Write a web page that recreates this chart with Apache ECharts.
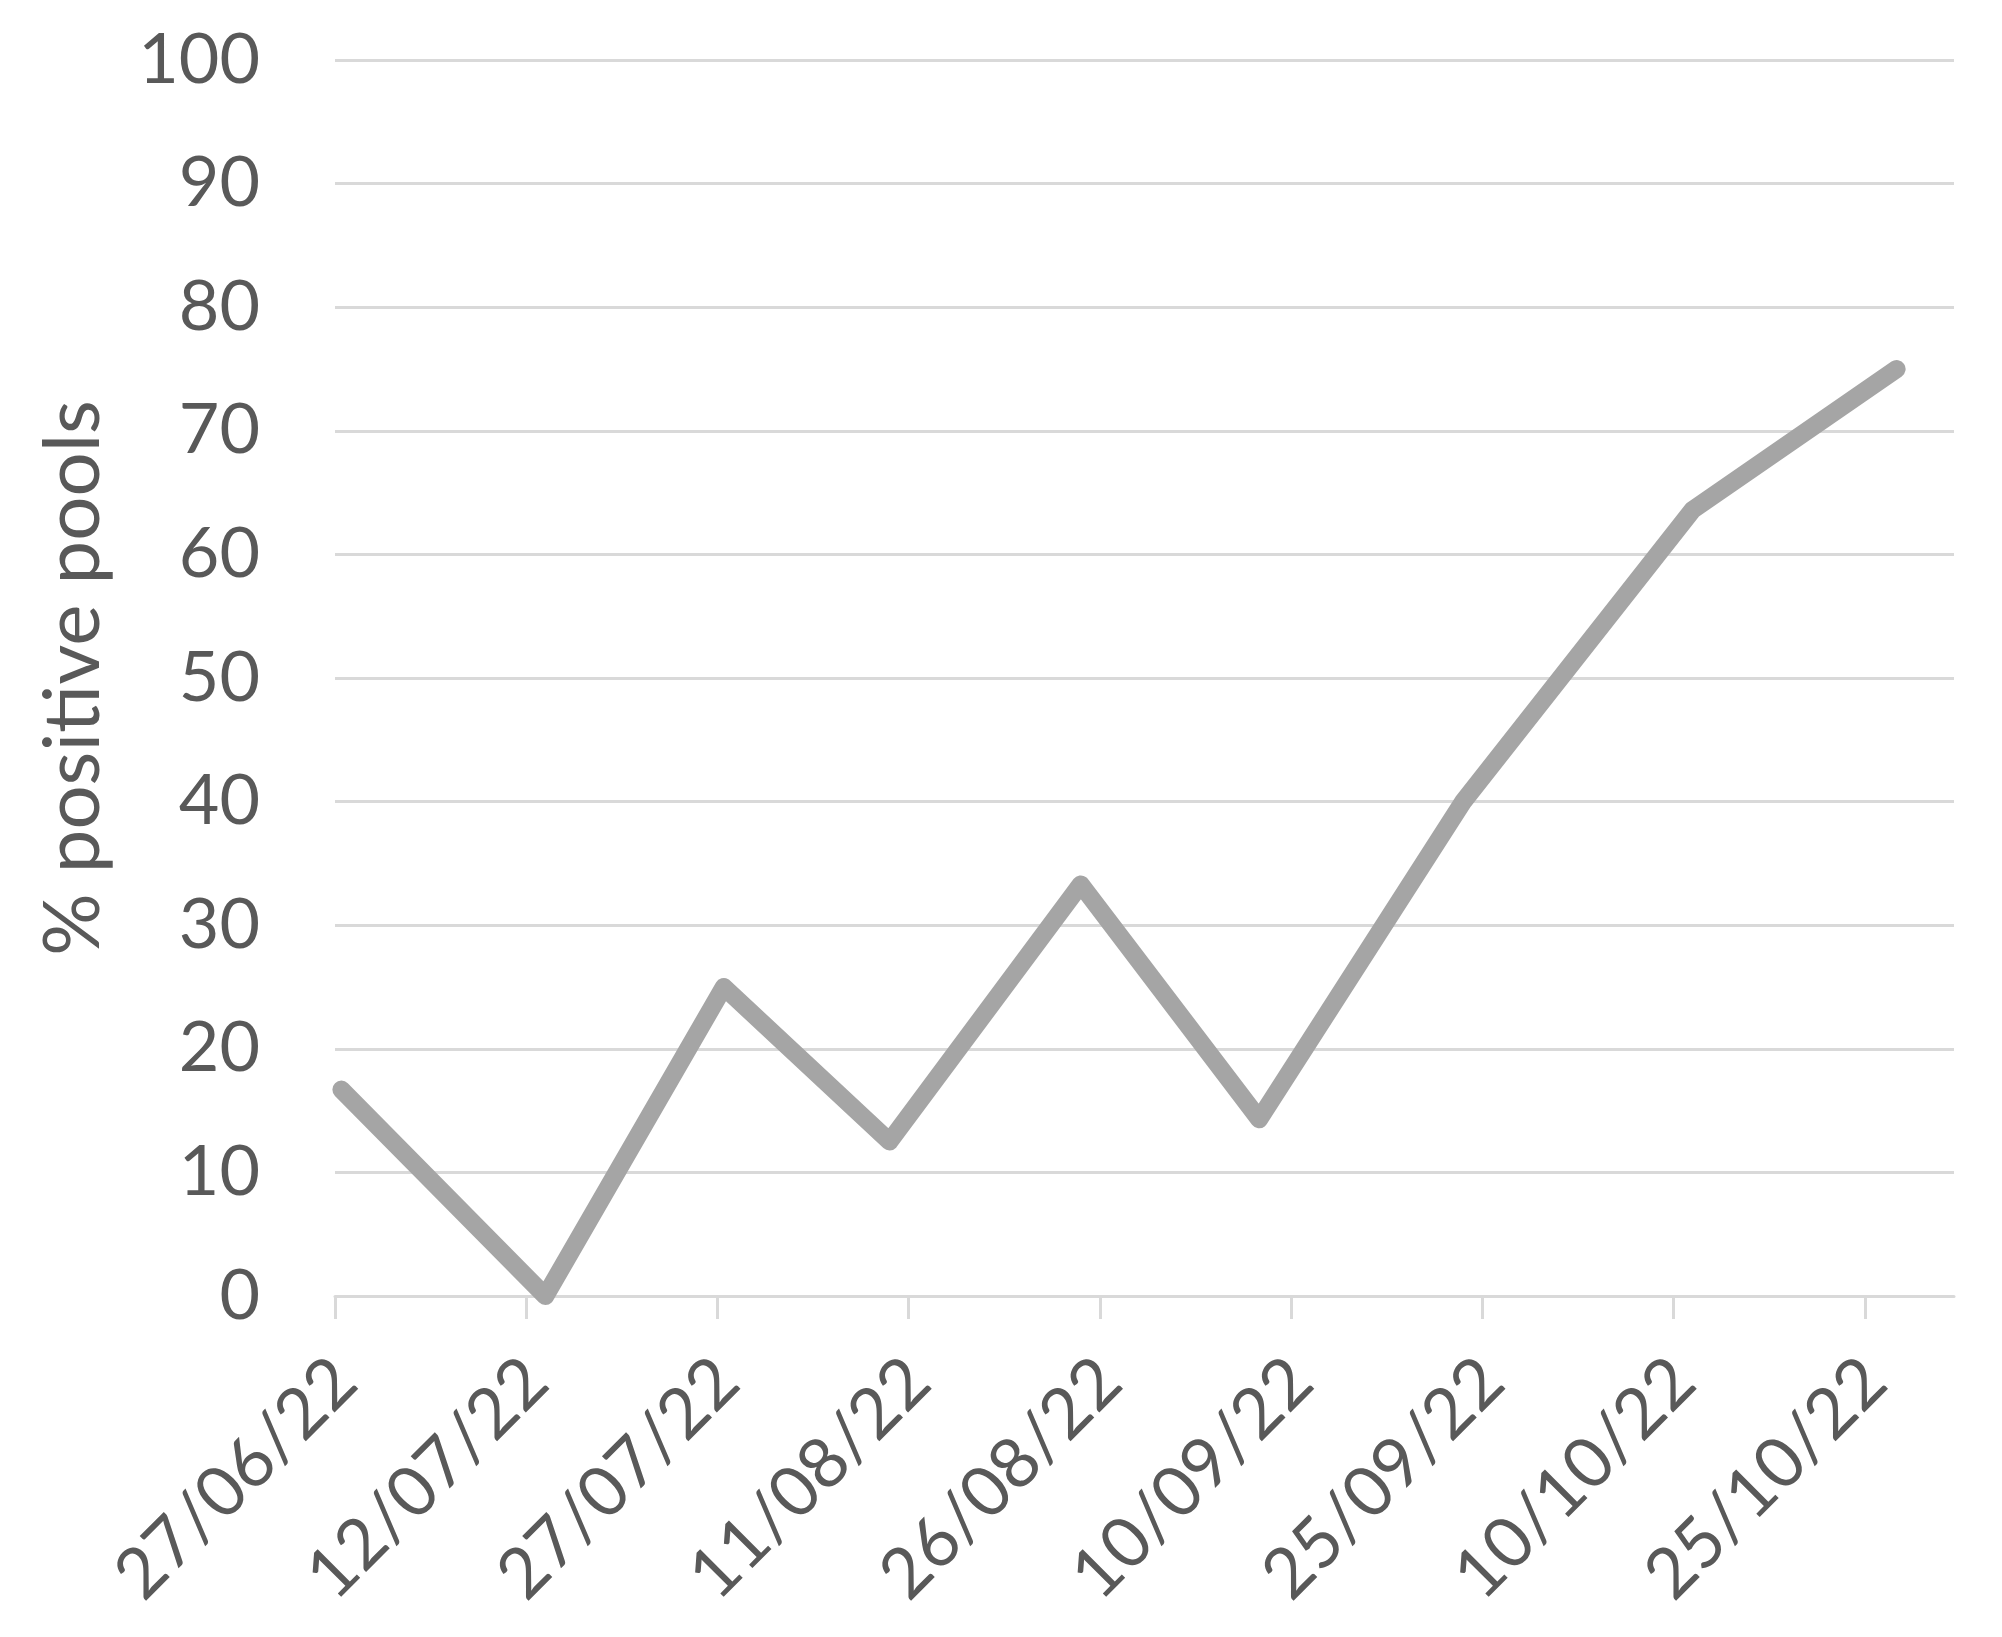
<!DOCTYPE html>
<html>
<head>
<meta charset="utf-8">
<script src="https://cdn.jsdelivr.net/npm/echarts@6/dist/echarts.min.js"></script>
<style>
  html, body { margin: 0; padding: 0; background: #fff; }
  #chart { width: 2002px; height: 1637px; }
</style>
</head>
<body>
<div id="chart"></div>
<script>
// sampling dates (dd/mm/yy) and % positive pools
const sampleDates = ['27/06/22', '13/07/22', '27/07/22', '09/08/22', '24/08/22', '07/09/22', '23/09/22', '11/10/22', '27/10/22'];
const positivePct = [16.7, 0, 25, 12.5, 33.3, 14.3, 40, 63.6, 75];

// x axis tick labels, every 15 days
const tickDates = ['27/06/22', '12/07/22', '27/07/22', '11/08/22', '26/08/22', '10/09/22', '25/09/22', '10/10/22', '25/10/22'];

const yTitle = '% positive pools';

const DAY = 86400000;
const origin = Date.UTC(2022, 5, 27);

// dd/mm/yy -> days since the first tick
function toDay(s) {
    const p = s.split('/');
    return (Date.UTC(2000 + Number(p[2]), Number(p[1]) - 1, Number(p[0])) - origin) / DAY;
}
function fromDay(v) {
    const d = new Date(origin + Math.round(v) * DAY);
    const pad = n => (n < 10 ? '0' : '') + n;
    return pad(d.getUTCDate()) + '/' + pad(d.getUTCMonth() + 1) + '/' + String(d.getUTCFullYear()).slice(2);
}

const tickValues = tickDates.map(toDay);
// points sit in the middle of their day, like a spreadsheet date axis
const seriesData = sampleDates.map((s, i) => [toDay(s) + 0.5, positivePct[i]]);

const textColor = '#595959';
const gridColor = '#d9d9d9';
const font = 'Lato, "Open Sans", sans-serif';

const chart = echarts.init(document.getElementById('chart'));
chart.setOption({
    backgroundColor: '#ffffff',
    animation: false,
    grid: { left: 335, right: 48, top: 60, bottom: 341 },
    xAxis: {
        type: 'value',
        min: 0,
        max: 127,
        axisLine: { show: true, lineStyle: { color: gridColor, width: 3 } },
        axisTick: {
            show: true,
            customValues: tickValues,
            length: 23,
            lineStyle: { color: gridColor, width: 3 }
        },
        axisLabel: {
            customValues: tickValues,
            formatter: v => fromDay(v),
            rotate: 45,
            margin: 84,
            padding: [0, -14, 0, 0],
            color: textColor,
            fontFamily: font,
            fontSize: 70
        },
        splitLine: { show: false }
    },
    yAxis: {
        type: 'value',
        min: 0,
        max: 100,
        interval: 10,
        name: yTitle,
        nameLocation: 'middle',
        nameRotate: 90,
        nameGap: 222,
        nameTextStyle: { color: textColor, fontFamily: font, fontSize: 78 },
        axisLine: { show: false },
        axisTick: { show: false },
        axisLabel: { color: textColor, fontFamily: font, fontSize: 70, margin: 75 },
        splitLine: { show: true, lineStyle: { color: gridColor, width: 3 } }
    },
    series: [{
        type: 'line',
        data: seriesData,
        showSymbol: false,
        lineStyle: { color: '#a5a5a5', width: 18, cap: 'round', join: 'round' },
        z: 3
    }]
});
</script>
</body>
</html>
